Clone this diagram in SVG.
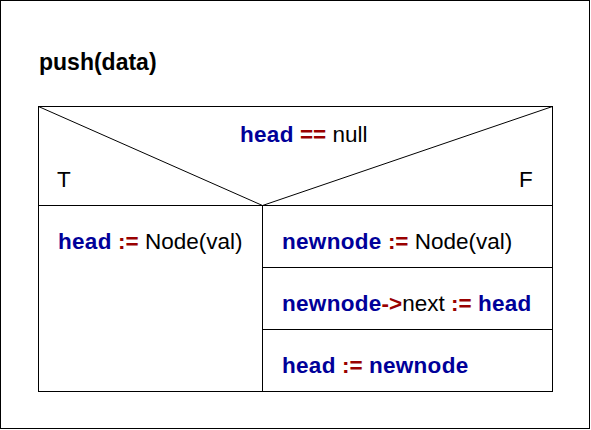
<svg xmlns="http://www.w3.org/2000/svg" width="591" height="430" viewBox="0 0 591 430">
<style>
.ln{fill:none;stroke:#000;stroke-width:1}
text{font-family:"Liberation Sans",Arial,sans-serif;font-size:22.5px;fill:#000}
.k{fill:#000099;font-weight:bold;letter-spacing:0.3px}
.o{fill:#990000;font-weight:bold}
.t{font-weight:bold;font-size:23px}
</style>
<rect x="0" y="0" width="591" height="430" fill="#fff"/>
<rect class="ln" x="0.5" y="0.5" width="589" height="428"/>
<text class="t" x="39" y="70">push(data)</text>
<g id="decision">
<rect class="ln" x="38.5" y="106.5" width="514" height="99"/>
<line class="ln" x1="38.5" y1="106.5" x2="262.5" y2="205.5"/>
<line class="ln" x1="552.5" y1="106.5" x2="262.5" y2="205.5"/>
<text x="240" y="142"><tspan class="k">head</tspan> <tspan class="o">==</tspan> null</text>
<text x="57" y="187">T</text>
<text x="519" y="187">F</text>
</g>
<g id="trueBranch">
<rect class="ln" x="38.5" y="205.5" width="224" height="186"/>
<text x="58" y="249"><tspan class="k">head</tspan> <tspan class="o">:=</tspan> Node(val)</text>
</g>
<g id="step1">
<rect class="ln" x="262.5" y="205.5" width="290" height="62"/>
<text x="282" y="249"><tspan class="k">newnode</tspan> <tspan class="o">:=</tspan> Node(val)</text>
</g>
<g id="step2">
<rect class="ln" x="262.5" y="267.5" width="290" height="62"/>
<text x="282" y="311"><tspan class="k">newnode</tspan><tspan class="o">-&gt;</tspan>next <tspan class="o">:=</tspan> <tspan class="k">head</tspan></text>
</g>
<g id="step3">
<rect class="ln" x="262.5" y="329.5" width="290" height="62"/>
<text x="282" y="373"><tspan class="k">head</tspan> <tspan class="o">:=</tspan> <tspan class="k">newnode</tspan></text>
</g>
<g id="connectors"></g>
</svg>
